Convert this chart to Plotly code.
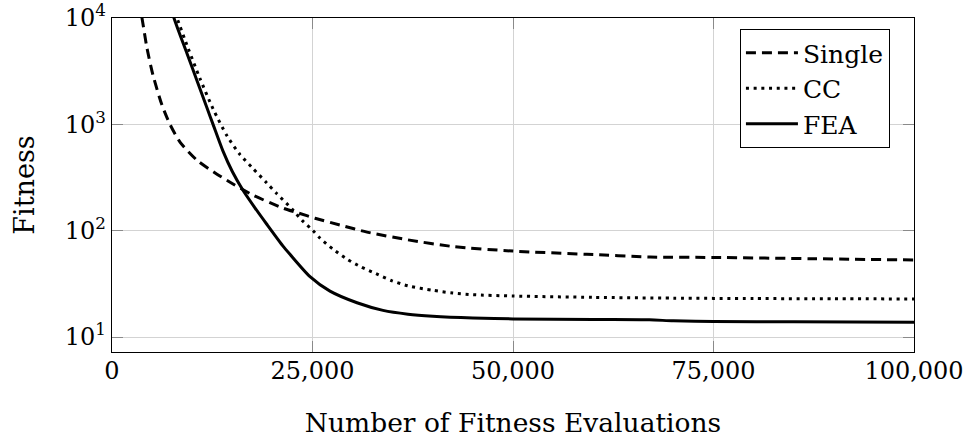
import plotly.graph_objects as go

# Convergence of best fitness vs. number of fitness evaluations
single_x = [3000, 3740, 4360, 5110, 6230, 7230, 8480, 10600, 13090, 15090, 17580,
            21320, 23190, 25310, 28430, 31800, 36900, 42500, 50000, 59200, 67100,
            75000, 87500, 100000]
single_y = [20000, 10000, 5220, 2910, 1520, 1000, 682, 460, 340, 275, 216,
            163, 147, 131, 113, 97, 82, 71, 64.3, 60, 56.5,
            56, 54.5, 53]

cc_x = [7500, 8100, 9480, 10970, 12600, 14340, 15960, 17500, 19300, 20500, 22440,
        23700, 25070, 25940, 27560, 29300, 31050, 32920, 34910, 36900, 40000,
        42500, 45000, 50000, 60000, 70000, 80000, 90000, 100000]
cc_y = [13000, 10000, 5220, 2700, 1400, 780, 520, 390, 281, 225, 160,
        125, 100, 85, 67, 54, 45.6, 39.4, 33.8, 30.3, 27.5,
        25.9, 25, 24.3, 23.6, 23.2, 23.0, 22.9, 22.8]

fea_x = [7000, 7730, 9350, 10600, 11850, 12600, 13840, 15000, 16330, 17800, 19300,
         21300, 22190, 24690, 27180, 30550, 33790, 36900, 40000, 45000, 50000,
         60000, 67000, 70000, 75000, 85000, 100000]
fea_y = [16000, 10000, 4640, 2576, 1426, 1000, 560, 360, 240, 165, 115,
         72, 60, 37, 27, 21, 17.8, 16.4, 15.7, 15.1, 14.8,
         14.6, 14.5, 14.2, 14.0, 13.9, 13.8]

x_ticks = [0, 25000, 50000, 75000, 100000]
y_ticks = [10, 100, 1000, 10000]
y_ticktext = ["10<sup>1</sup>", "10<sup>2</sup>", "10<sup>3</sup>", "10<sup>4</sup>"]

FONT = "DejaVu Serif"

fig = go.Figure()
fig.add_trace(go.Scatter(x=single_x, y=single_y, mode="lines", name="Single",
                         line=dict(color="black", width=3, dash="10px,6px",
                                   shape="spline", smoothing=0.7)))
fig.add_trace(go.Scatter(x=cc_x, y=cc_y, mode="lines", name="CC",
                         line=dict(color="black", width=3, dash="3px,4.7px",
                                   shape="spline", smoothing=0.7)))
fig.add_trace(go.Scatter(x=fea_x, y=fea_y, mode="lines", name="FEA",
                         line=dict(color="black", width=3,
                                   shape="spline", smoothing=0.7)))

axis_common = dict(
    showline=True, linecolor="black", linewidth=1.3, mirror="ticks",
    ticks="inside", ticklen=11, tickcolor="#8a8a8a", tickwidth=1,
    showgrid=True, gridcolor="#d3d3d3", gridwidth=1, automargin=False,
    ticklabeloverflow="allow",
    zeroline=False, tickfont=dict(family=FONT, size=24, color="black"),
)

fig.update_xaxes(
    range=[0, 100000], tickvals=x_ticks, tickformat=",d", ticklabelstandoff=-3,
    title=dict(text="Number of Fitness Evaluations",
               font=dict(family=FONT, size=26.5, color="black"), standoff=29),
    **axis_common,
)
fig.update_yaxes(
    type="log", range=[0.859, 4.0005], tickvals=y_ticks, ticktext=y_ticktext,
    title=dict(text="Fitness", font=dict(family=FONT, size=27, color="black"),
               standoff=22),
    **axis_common,
)

fig.update_layout(
    width=969, height=440,
    margin=dict(l=112, r=55, t=18, b=88),
    paper_bgcolor="white", plot_bgcolor="white",
    font=dict(family=FONT, color="black"),
    legend=dict(x=0.970, y=0.967, xanchor="right", yanchor="top",
                bgcolor="white", bordercolor="black", borderwidth=1,
                font=dict(family=FONT, size=25, color="black"),
                itemwidth=52, tracegroupgap=0),
    showlegend=True,
)

fig.write_html("out.html")
